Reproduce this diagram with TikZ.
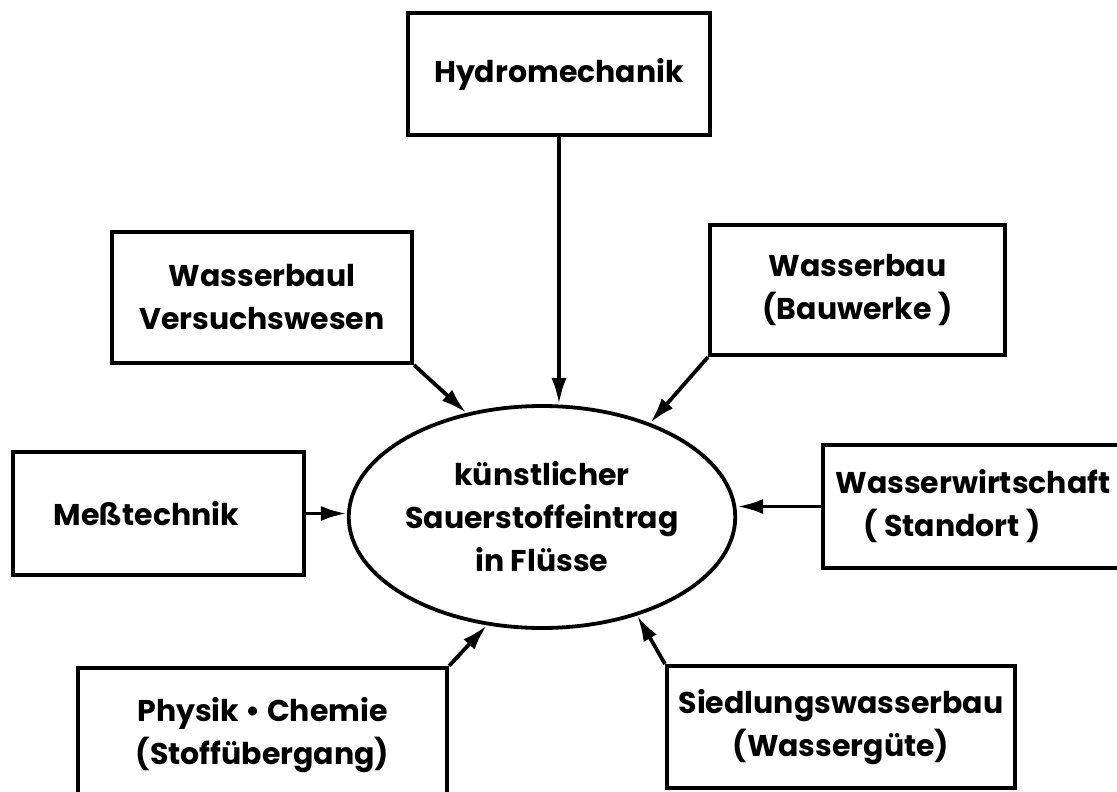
\documentclass[tikz,border=0pt]{standalone}
\usepackage{fontspec}
\setmainfont{Poppins}
\usetikzlibrary{arrows.meta,shapes.geometric}
\begin{document}
\begin{tikzpicture}[x=1pt,y=-1pt,
  lbl/.style={font=\fontsize{30}{43}\selectfont\bfseries, align=center},
  box/.style={lbl, draw, line width=4pt, rectangle, inner sep=0pt},
  hub/.style={lbl, draw, line width=3.8pt, ellipse, inner sep=0pt, minimum width=340pt, minimum height=222pt},
  conn/.style={line width=3.8pt, -{Latex[length=26pt,width=15pt]}}]
\useasboundingbox (0,0) rectangle (1117,792);
\fill[white] (0,0) rectangle (1117,792);
\clip (0,0) rectangle (1117,792);
\node[hub] (ell) at (542,517) {künstlicher\\Sauerstoffeintrag\\in Flüsse};
\node[box, minimum width=302pt, minimum height=122pt] (hyd) at (559,74) {Hydromechanik};
\node[box, minimum width=300pt, minimum height=131pt] (vers) at (262,297.5) {Wasserbaul\\Versuchswesen};
\node[box, minimum width=295pt, minimum height=130pt] (bau) at (857.5,290) {Wasserbau\\(Bauwerke )};
\node[box, minimum width=291pt, minimum height=123pt] (mess) at (158.5,513.5) {Meßtechnik\hspace*{24pt}};
\node[box, minimum width=312pt, minimum height=123pt] (ww) at (979,506.5) {Wasserwirtschaft\hspace*{12pt}\\( Standort )\hspace*{54pt}};
\node[box, minimum width=369pt, minimum height=134pt] (phys) at (262.5,735) {Physik • Chemie\\(Stoffübergang)};
\node[box, minimum width=348pt, minimum height=122pt] (sied) at (841,727) {Siedlungswasserbau\\(Wassergüte)};
\draw[conn] (hyd.south) -- (hyd.south |- ell.north);
\draw[conn] (vers.south east) -- (ell.126);
\draw[conn] (bau.south west) -- (ell.41);
\draw[conn] (mess.east) -- (mess.east -| ell.west);
\draw[conn] (ww.west) -- (ww.west -| ell.east);
\draw[conn] (phys.north east) -- (ell.243);
\draw[conn] (sied.north west) -- (ell.314);
\end{tikzpicture}
\end{document}
